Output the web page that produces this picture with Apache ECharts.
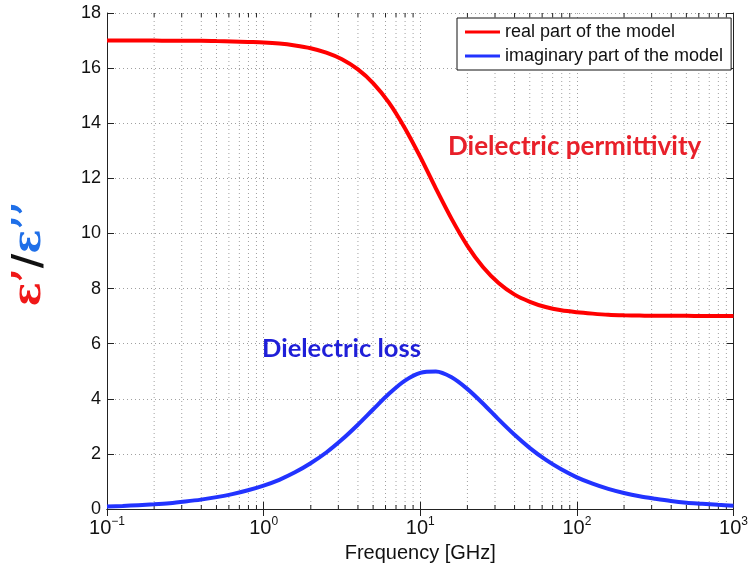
<!DOCTYPE html>
<html>
<head>
<meta charset="utf-8">
<style>
  html, body { margin: 0; padding: 0; background: #fff; }
  #chart { width: 751px; height: 571px; }
</style>
<script src="https://cdn.jsdelivr.net/npm/echarts@6/dist/echarts.min.js"></script>
</head>
<body>
<div id="chart"></div>
<script>
// Frequency samples in GHz (log-spaced, 10 per decade)
const frequency = [0.1, 0.1259, 0.1585, 0.1995, 0.2512, 0.3162, 0.3981, 0.5012, 0.631, 0.7943,
  1, 1.259, 1.585, 1.995, 2.512, 3.162, 3.981, 5.012, 6.31, 7.943,
  10, 12.59, 15.85, 19.95, 25.12, 31.62, 39.81, 50.12, 63.1, 79.43,
  100, 125.9, 158.5, 199.5, 251.2, 316.2, 398.1, 501.2, 631, 794.3, 1000];

// Real part (dielectric permittivity)
const realPart = [17.00, 17.00, 17.00, 17.00, 16.99, 16.99, 16.99, 16.98, 16.97, 16.95,
  16.93, 16.89, 16.82, 16.72, 16.56, 16.32, 15.96, 15.45, 14.75, 13.84,
  12.78, 11.63, 10.53, 9.56, 8.78, 8.20, 7.79, 7.52, 7.33, 7.21,
  7.14, 7.09, 7.05, 7.03, 7.02, 7.01, 7.01, 7.01, 7.00, 7.00, 7.00];

// Imaginary part (dielectric loss)
const imagPart = [0.09, 0.11, 0.14, 0.17, 0.21, 0.27, 0.34, 0.43, 0.54, 0.68,
  0.85, 1.06, 1.33, 1.66, 2.05, 2.52, 3.05, 3.62, 4.18, 4.65,
  4.94, 4.99, 4.78, 4.36, 3.83, 3.25, 2.70, 2.21, 1.79, 1.44,
  1.15, 0.92, 0.73, 0.58, 0.46, 0.37, 0.29, 0.23, 0.19, 0.15, 0.12];

// Minor log ticks (2..9 per decade)
const minorTicks = [0.2, 0.3, 0.4, 0.5, 0.6, 0.7, 0.8, 0.9,
  2, 3, 4, 5, 6, 7, 8, 9,
  20, 30, 40, 50, 60, 70, 80, 90,
  200, 300, 400, 500, 600, 700, 800, 900];

const seriesNames = ['real part of the model', 'imaginary part of the model'];
const yMin = 0, yMax = 18, yStep = 2;
const xMin = 0.1, xMax = 1000;

const chart = echarts.init(document.getElementById('chart'));

const gridDot = { color: '#a0a0a0', width: 1, type: [1, 3] };
const axisLineStyle = { lineStyle: { color: '#222', width: 1 } };

function expLabel(v) {
  const e = Math.round(Math.log10(v));
  return '{b|10}{s|' + (e < 0 ? '\u2212' + (-e) : e) + '}';
}

const option = {
  backgroundColor: '#fff',
  animation: false,
  grid: { left: 107, top: 13, right: 14, bottom: 62, containLabel: false },
  legend: {
    data: seriesNames,
    orient: 'vertical',
    left: 457, top: 18,
    padding: [4, 8, 4, 8],
    itemGap: 4,
    itemWidth: 35, itemHeight: 3,
    icon: 'rect',
    backgroundColor: '#fff',
    borderColor: '#111', borderWidth: 1,
    textStyle: { fontFamily: 'Liberation Sans', fontSize: 18, color: '#111', lineHeight: 20 }
  },
  xAxis: [{
    type: 'log', logBase: 10, min: xMin, max: xMax,
    name: 'Frequency [GHz]', nameLocation: 'middle', nameGap: 33,
    nameTextStyle: { fontFamily: 'Liberation Sans', fontSize: 20, color: '#111' },
    axisLine: axisLineStyle,
    axisTick: { inside: true, length: 7, lineStyle: { color: '#222' } },
    axisLabel: {
      margin: 7, formatter: expLabel,
      rich: {
        b: { fontFamily: 'Liberation Sans', fontSize: 20, color: '#111' },
        s: { fontFamily: 'Liberation Sans', fontSize: 12, color: '#111', padding: [0, 0, 13, 0] }
      }
    },
    splitLine: { show: true, lineStyle: gridDot }
  }, {
    type: 'log', logBase: 10, min: xMin, max: xMax, position: 'top',
    axisLine: axisLineStyle,
    axisTick: { inside: true, length: 7, lineStyle: { color: '#222' } },
    axisLabel: { show: false }, splitLine: { show: false }
  }],
  yAxis: [{
    type: 'value', min: yMin, max: yMax, interval: yStep,
    axisLine: { show: true, lineStyle: { color: '#222', width: 1 } },
    axisTick: { show: true, inside: true, length: 7, lineStyle: { color: '#222' } },
    axisLabel: { margin: 6, fontFamily: 'Liberation Sans', fontSize: 18, color: '#111' },
    splitLine: { show: true, lineStyle: gridDot }
  }, {
    type: 'value', min: yMin, max: yMax, interval: yStep, position: 'right',
    axisLine: { show: true, lineStyle: { color: '#222', width: 1 } },
    axisTick: { show: true, inside: true, length: 7, lineStyle: { color: '#222' } },
    axisLabel: { show: false }, splitLine: { show: false }
  }],
  graphic: [
    {
      type: 'text', left: 448, top: 134, z: 10,
      style: { text: 'Dielectric permittivity', fill: '#e8202a',
        font: 'bold 26px Lato' }
    },
    {
      type: 'text', left: 262, top: 336, z: 10,
      style: { text: 'Dielectric loss', fill: '#1f1fd8',
        font: 'bold 25.5px Lato' }
    },
    {
      type: 'text', x: 30, y: 254, rotation: Math.PI / 2, z: 10,
      style: {
        text: '{r|\u03b5\u2019}{k|/}{bl|\u03b5\u2019\u2019}',
        align: 'center', verticalAlign: 'middle',
        rich: {
          r: { fontFamily: 'DejaVu Serif', fontWeight: 'bold', fontSize: 40, fill: '#f01818' },
          k: { fontFamily: 'DejaVu Serif', fontWeight: 'bold', fontSize: 40, fill: '#111' },
          bl: { fontFamily: 'DejaVu Serif', fontWeight: 'bold', fontSize: 40, fill: '#1f6fe8' }
        }
      }
    }
  ],
  series: [
    {
      // minor log grid lines and ticks at 2..9 per decade
      type: 'custom', xAxisIndex: 0, yAxisIndex: 0, z: 1, silent: true,
      data: minorTicks.map(v => [v]),
      renderItem: function (params, api) {
        const top = api.coord([api.value(0), yMax]);
        const bot = api.coord([api.value(0), yMin]);
        return {
          type: 'group',
          children: [
            { type: 'line', shape: { x1: top[0], y1: top[1], x2: bot[0], y2: bot[1] },
              style: { stroke: '#a0a0a0', lineWidth: 1, lineDash: [1, 3] } },
            { type: 'line', shape: { x1: bot[0], y1: bot[1], x2: bot[0], y2: bot[1] - 4 },
              style: { stroke: '#222', lineWidth: 1 } },
            { type: 'line', shape: { x1: top[0], y1: top[1], x2: top[0], y2: top[1] + 4 },
              style: { stroke: '#222', lineWidth: 1 } }
          ]
        };
      }
    },
    {
      name: seriesNames[0], type: 'line', smooth: 0.3, showSymbol: false, z: 5,
      data: frequency.map((f, i) => [f, realPart[i]]),
      lineStyle: { color: '#ff0000', width: 4 }, itemStyle: { color: '#ff0000' }
    },
    {
      name: seriesNames[1], type: 'line', smooth: 0.3, showSymbol: false, z: 5,
      data: frequency.map((f, i) => [f, imagPart[i]]),
      lineStyle: { color: '#2233ff', width: 4 }, itemStyle: { color: '#2233ff' }
    }
  ]
};

chart.setOption(option);
</script>
</body>
</html>
